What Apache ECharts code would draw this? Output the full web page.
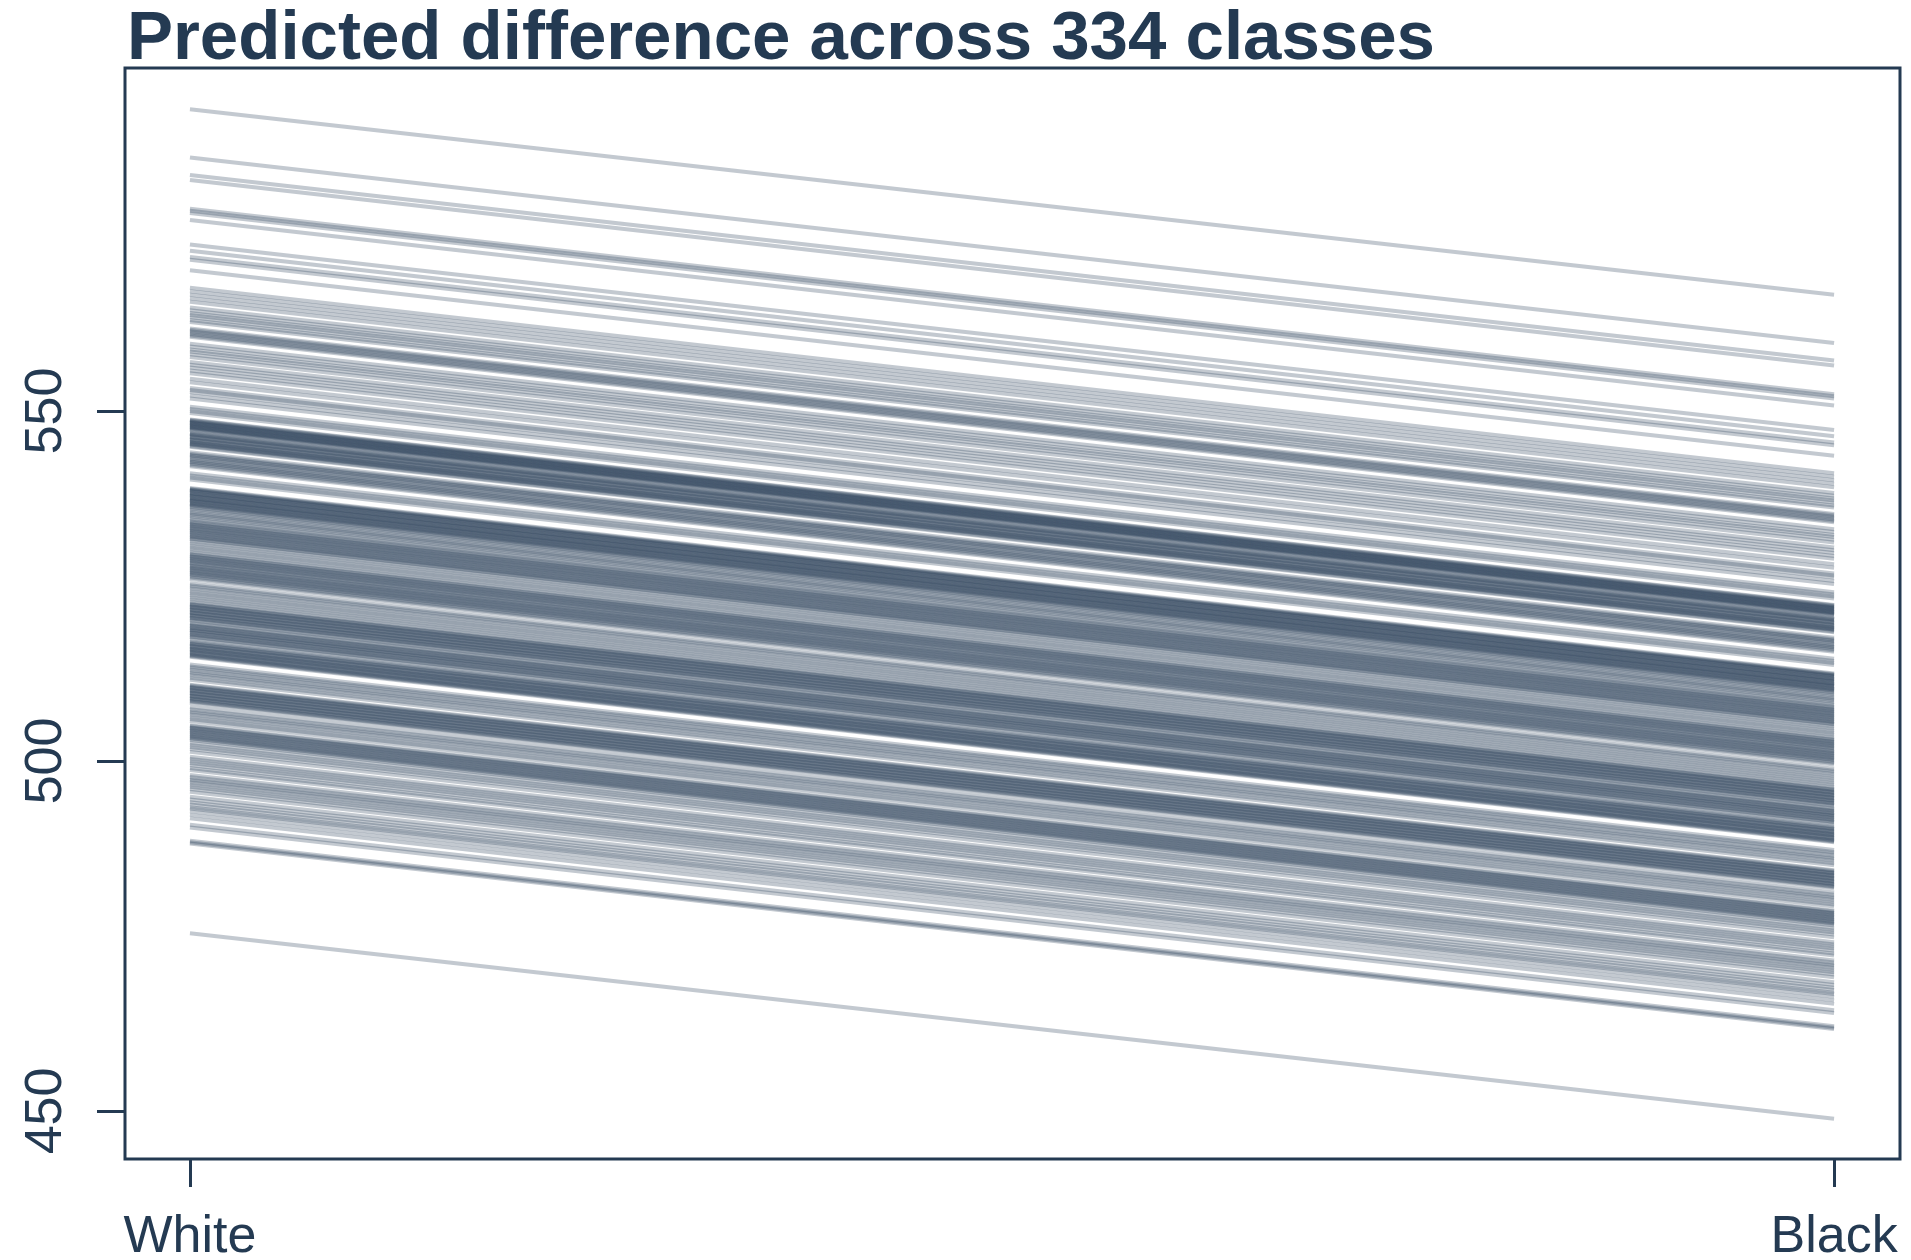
<!DOCTYPE html>
<html>
<head>
<meta charset="utf-8">
<title>Predicted difference across 334 classes</title>
<script src="https://cdn.jsdelivr.net/npm/echarts@6/dist/echarts.min.js"></script>
<style>
  html, body { margin: 0; padding: 0; background: #ffffff; }
  #chart { width: 1911px; height: 1260px; }
</style>
</head>
<body>
<div id="chart"></div>
<script>
// Group labels on the x axis
const groups = ['White', 'Black'];

// y-axis tick values
const yTicks = [450, 500, 550];

// Predicted score for each class, white students (one entry per class)
const whiteScores = [
  593.1, 586.2, 583.7, 583.0, 578.9, 578.6, 578.3, 577.3, 573.8, 572.9, 572.0, 571.6, 570.1,
  567.6, 567.1, 566.6, 566.1, 565.6,
  564.8, 564.4, 564.0, 563.7, 563.4, 563.0, 562.7,
  561.8, 561.6, 561.4, 561.2, 561.0, 560.8, 560.6,
  559.6, 559.2, 558.8, 558.5, 558.1, 557.7,
  557.0, 556.6, 556.2, 555.8, 555.4,
  554.6, 554.1,
  553.3, 553.0, 552.7,
  552.2, 551.8,
  550.6, 550.3, 550.0, 549.7,
  548.8, 548.7, 548.6, 548.5, 548.4, 548.3, 548.2, 548.1, 548.0, 547.9, 547.8, 547.7, 547.6, 547.5, 547.4, 547.3,
  546.9, 546.8, 546.7, 546.6, 546.4, 546.3, 546.2, 546.0, 545.9, 545.8, 545.6, 545.5, 545.4, 545.3, 545.2, 545.0, 544.9,
  544.1, 543.9, 543.7, 543.6, 543.4, 543.2, 543.0, 542.8, 542.7, 542.5, 542.3, 542.1,
  541.1, 540.8, 540.5, 540.2,
  539.0, 538.9, 538.8, 538.7, 538.6, 538.5, 538.3, 538.2, 538.1, 538.0, 537.9, 537.8,
  537.6, 537.5, 537.4, 537.3, 537.2, 537.1, 536.9, 536.8, 536.7, 536.6, 536.5, 536.3,
  536.1, 535.9, 535.6, 535.4, 535.2, 535.0, 534.7, 534.5,
  534.2, 534.1, 533.9, 533.8, 533.6, 533.5, 533.3, 533.2, 533.0, 532.9, 532.7, 532.6, 532.4, 532.3, 532.1, 532.0, 531.8, 531.7,
  531.4, 531.1, 530.8, 530.5, 530.2, 529.9,
  529.6, 529.5, 529.3, 529.2, 529.0, 528.9, 528.7, 528.6, 528.4, 528.3, 528.1, 527.9,
  527.8, 527.6, 527.5, 527.3, 527.2, 527.0, 526.9, 526.7, 526.6, 526.4, 526.2, 526.0,
  525.4, 525.1, 524.9, 524.6, 524.3, 524.0, 523.7, 523.4,
  523.1, 522.8,
  522.5, 522.4, 522.3, 522.1, 522.0, 521.9, 521.7, 521.6, 521.5, 521.3, 521.2, 521.1, 520.9, 520.8, 520.7, 520.5, 520.4, 520.2, 520.1,
  519.7, 519.6, 519.4, 519.3, 519.1, 519.0, 518.8, 518.7, 518.6, 518.4, 518.3, 518.1, 518.0, 517.8, 517.7,
  517.4, 517.1,
  516.9, 516.8, 516.7, 516.5, 516.4, 516.3, 516.1, 516.0, 515.9, 515.8, 515.6, 515.5, 515.4, 515.2, 515.1, 515.0, 514.9,
  513.8, 513.5, 513.3, 513.0, 512.7, 512.5, 512.2, 511.9, 511.6,
  510.9, 510.8, 510.6, 510.5, 510.4, 510.2, 510.1, 510.0, 509.8, 509.7, 509.6, 509.4, 509.3, 509.2, 509.0, 508.9, 508.8, 508.6, 508.5, 508.3,
  507.7, 507.4, 507.1, 506.9, 506.6, 506.3, 506.0, 505.7,
  505.1, 505.0, 504.8, 504.7, 504.5, 504.4, 504.2, 504.1, 503.9, 503.8, 503.6, 503.5, 503.3, 503.2, 503.0,
  502.6, 502.3, 502.0, 501.7, 501.3,
  500.6, 500.3, 500.0, 499.7, 499.4, 499.0, 498.7,
  498.0, 497.7, 497.4, 497.2, 496.9, 496.6, 496.3, 496.0, 495.6,
  494.9, 494.5, 494.1, 493.8, 493.4,
  493.2, 492.8, 492.3, 491.8, 490.9, 490.5,
  488.6, 488.4, 488.2,
  475.4
];

// Predicted score for each class, black students (same class order)
const blackScores = [
  566.6, 559.7, 557.2, 556.5, 552.4, 552.1, 551.8, 550.8, 547.3, 546.4, 545.5, 545.1, 543.6,
  541.1, 540.6, 540.1, 539.6, 539.1,
  538.3, 537.9, 537.5, 537.2, 536.9, 536.5, 536.2,
  535.3, 535.1, 534.9, 534.7, 534.5, 534.3, 534.1,
  533.1, 532.7, 532.3, 532.0, 531.6, 531.2,
  530.5, 530.1, 529.7, 529.3, 528.9,
  528.1, 527.6,
  526.8, 526.5, 526.2,
  525.7, 525.3,
  524.1, 523.8, 523.5, 523.2,
  522.3, 522.2, 522.1, 522.0, 521.9, 521.8, 521.7, 521.6, 521.5, 521.4, 521.3, 521.2, 521.1, 521.0, 520.9, 520.8,
  520.4, 520.3, 520.2, 520.1, 519.9, 519.8, 519.7, 519.5, 519.4, 519.3, 519.1, 519.0, 518.9, 518.8, 518.7, 518.5, 518.4,
  517.6, 517.4, 517.2, 517.1, 516.9, 516.7, 516.5, 516.3, 516.2, 516.0, 515.8, 515.6,
  514.6, 514.3, 514.0, 513.7,
  512.5, 512.4, 512.3, 512.2, 512.1, 512.0, 511.8, 511.7, 511.6, 511.5, 511.4, 511.3,
  511.1, 511.0, 510.9, 510.8, 510.7, 510.6, 510.4, 510.3, 510.2, 510.1, 510.0, 509.8,
  509.6, 509.4, 509.1, 508.9, 508.7, 508.5, 508.2, 508.0,
  507.7, 507.6, 507.4, 507.3, 507.1, 507.0, 506.8, 506.7, 506.5, 506.4, 506.2, 506.1, 505.9, 505.8, 505.6, 505.5, 505.3, 505.2,
  504.9, 504.6, 504.3, 504.0, 503.7, 503.4,
  503.1, 503.0, 502.8, 502.7, 502.5, 502.4, 502.2, 502.1, 501.9, 501.8, 501.6, 501.4,
  501.3, 501.1, 501.0, 500.8, 500.7, 500.5, 500.4, 500.2, 500.1, 499.9, 499.7, 499.5,
  498.9, 498.6, 498.4, 498.1, 497.8, 497.5, 497.2, 496.9,
  496.6, 496.3,
  496.0, 495.9, 495.8, 495.6, 495.5, 495.4, 495.2, 495.1, 495.0, 494.8, 494.7, 494.6, 494.4, 494.3, 494.2, 494.0, 493.9, 493.7, 493.6,
  493.2, 493.1, 492.9, 492.8, 492.6, 492.5, 492.3, 492.2, 492.1, 491.9, 491.8, 491.6, 491.5, 491.3, 491.2,
  490.9, 490.6,
  490.4, 490.3, 490.2, 490.0, 489.9, 489.8, 489.6, 489.5, 489.4, 489.3, 489.1, 489.0, 488.9, 488.7, 488.6, 488.5, 488.4,
  487.3, 487.0, 486.8, 486.5, 486.2, 486.0, 485.7, 485.4, 485.1,
  484.4, 484.3, 484.1, 484.0, 483.9, 483.7, 483.6, 483.5, 483.3, 483.2, 483.1, 482.9, 482.8, 482.7, 482.5, 482.4, 482.3, 482.1, 482.0, 481.8,
  481.2, 480.9, 480.6, 480.4, 480.1, 479.8, 479.5, 479.2,
  478.6, 478.5, 478.3, 478.2, 478.0, 477.9, 477.7, 477.6, 477.4, 477.3, 477.1, 477.0, 476.8, 476.7, 476.5,
  476.1, 475.8, 475.5, 475.2, 474.8,
  474.1, 473.8, 473.5, 473.2, 472.9, 472.5, 472.2,
  471.5, 471.2, 470.9, 470.7, 470.4, 470.1, 469.8, 469.5, 469.1,
  468.4, 468.0, 467.6, 467.3, 466.9,
  466.7, 466.3, 465.8, 465.3, 464.4, 464.0,
  462.1, 461.9, 461.7,
  448.9
];

const ink = '#243a52';
const font = '"Liberation Sans", Arial, Helvetica, sans-serif';

// One segment per class, from the White position (0) to the Black position (1)
const segments = whiteScores.map((w, i) => ({
  coords: [[0, w], [1, blackScores[i]]]
}));

const chart = echarts.init(document.getElementById('chart'), null, { renderer: 'canvas' });

chart.setOption({
  animation: false,
  backgroundColor: '#ffffff',
  title: {
    text: 'Predicted difference across 334 classes',
    left: 122,
    top: 0,
    textStyle: { fontFamily: font, fontSize: 69, fontWeight: 'bold', color: ink }
  },
  grid: {
    left: 125, right: 11, top: 68, bottom: 101,
    containLabel: false,
    outerBoundsMode: 'none',
    show: true, borderColor: ink, borderWidth: 3, backgroundColor: 'transparent'
  },
  xAxis: {
    type: 'value',
    min: -0.0395,
    max: 1.0401,
    splitLine: { show: false },
    axisLine: { show: false, onZero: false },
    axisTick: {
      show: true, length: 28, inside: false,
      customValues: [0, 1],
      lineStyle: { color: ink, width: 3 }
    },
    axisLabel: {
      customValues: [0, 1],
      margin: 53,
      fontFamily: font, fontSize: 52, color: ink,
      formatter: v => groups[Math.round(v)]
    }
  },
  yAxis: {
    type: 'value',
    min: 443.14,
    max: 599.0,
    splitLine: { show: false },
    axisLine: { show: false, onZero: false },
    axisTick: {
      show: true, length: 28, inside: false,
      customValues: yTicks,
      lineStyle: { color: ink, width: 3 }
    },
    axisLabel: {
      customValues: yTicks,
      rotate: 90,
      margin: 52,
      fontFamily: font, fontSize: 52, color: ink
    }
  },
  series: [{
    type: 'lines',
    coordinateSystem: 'cartesian2d',
    polyline: false,
    silent: true,
    lineStyle: { color: 'rgb(38,60,85)', opacity: 0.28, width: 4 },
    data: segments
  }]
});
</script>
</body>
</html>
